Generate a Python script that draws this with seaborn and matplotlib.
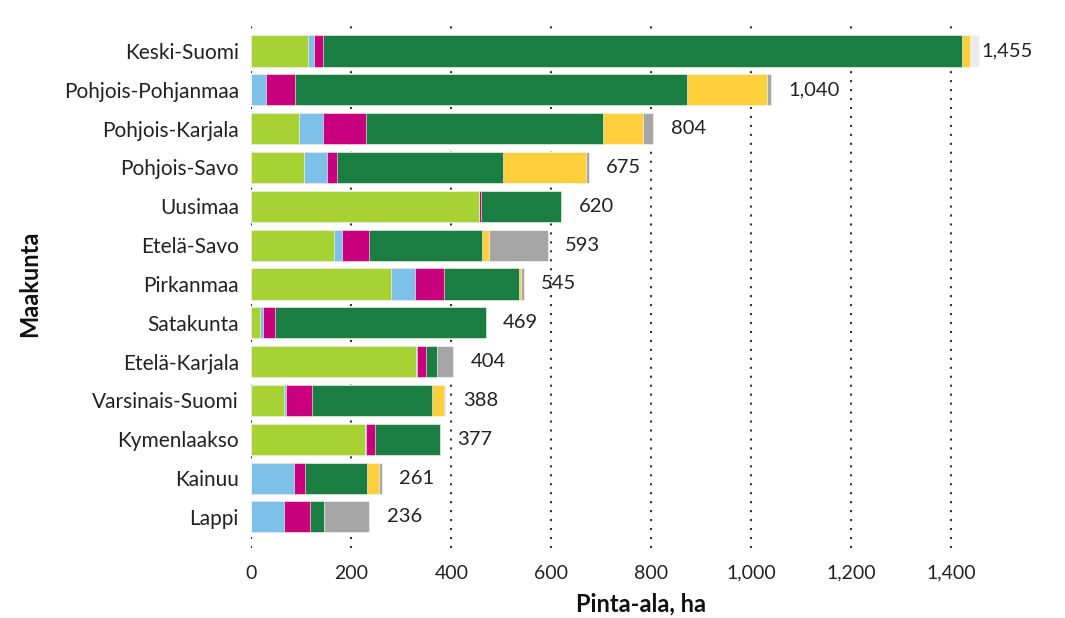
import numpy as np
import pandas as pd
import matplotlib
matplotlib.use("Agg")
import matplotlib.pyplot as plt
import seaborn as sns

regions = ["Keski-Suomi", "Pohjois-Pohjanmaa", "Pohjois-Karjala", "Pohjois-Savo",
           "Uusimaa", "Etelä-Savo", "Pirkanmaa", "Satakunta", "Etelä-Karjala",
           "Varsinais-Suomi", "Kymenlaakso", "Kainuu", "Lappi"]
seg1 = [113, 0, 96, 105, 456, 166, 279, 17, 329, 66, 227, 0, 0]          # light green
seg2 = [13, 29, 47, 46, 0, 16, 49, 6, 2, 3, 2, 86, 66]                   # light blue
seg3 = [17, 59, 86, 21, 4, 54, 57, 25, 19, 52, 19, 22, 52]               # magenta
seg4 = [1279, 783, 474, 331, 160, 225, 151, 421, 21, 240, 129, 123, 28]  # dark green
seg5 = [15, 161, 81, 167, 0, 15, 3, 0, 0, 24, 0, 25, 0]                  # yellow
seg6 = [0, 8, 20, 5, 0, 117, 6, 0, 33, 3, 0, 5, 90]                      # gray
seg7 = [18, 0, 0, 0, 0, 0, 0, 0, 0, 0, 0, 0, 0]                          # light gray
totals = [1455, 1040, 804, 675, 620, 593, 545, 469, 404, 388, 377, 261, 236]
xticks = [0, 200, 400, 600, 800, 1000, 1200, 1400]

colors = ["#A6D233", "#7DC0E8", "#C8007D", "#1A7D41", "#FFD03C", "#A6A6A6", "#ECECEC"]
segs = [seg1, seg2, seg3, seg4, seg5, seg6, seg7]

sns.set_theme(style="white")
plt.rcParams["font.family"] = ["Lato", "DejaVu Sans"]

fig = plt.figure(figsize=(10.65, 6.18), dpi=100)
ax = fig.add_axes([0.236, 0.1133, 0.7324, 0.8544])

cum = np.cumsum(np.array(segs), axis=0)
for k in range(len(segs) - 1, -1, -1):
    df = pd.DataFrame({"region": regions, "value": cum[k]})
    sns.barplot(data=df, y="region", x="value", orient="h", color=colors[k],
                width=0.8, saturation=1, ax=ax, edgecolor="white", linewidth=0.4,
                zorder=2)

for i, t in enumerate(totals):
    off = 1.5 if t > 1400 else 12.5
    ax.annotate(f"{t:,}", xy=(t, i), xytext=(off, 0), textcoords="offset points",
                ha="left", va="center", fontsize=14.5, color="#222222")

ax.set_xlim(0, 1560)
ax.set_ylim(12.8, -0.8)
ax.set_xticks(xticks)
ax.set_xticklabels([f"{v:,}" for v in xticks])
for s in ax.spines.values():
    s.set_visible(False)
ax.set_axisbelow(True)
ax.xaxis.grid(True, linestyle=(0, (1, 3.3)), linewidth=1.5, color="#333333")
ax.yaxis.grid(False)
ax.tick_params(axis="x", length=0, pad=12, labelsize=14, labelcolor="#222222")
ax.tick_params(axis="y", length=0, pad=9, labelsize=15, labelcolor="#222222")
ax.set_xlabel("Pinta-ala, ha", fontsize=17, fontweight="bold", labelpad=8, color="#111111")
ax.set_ylabel("Maakunta", fontsize=17, fontweight="bold", labelpad=16, color="#111111")

fig.savefig("out.png", dpi=100)
